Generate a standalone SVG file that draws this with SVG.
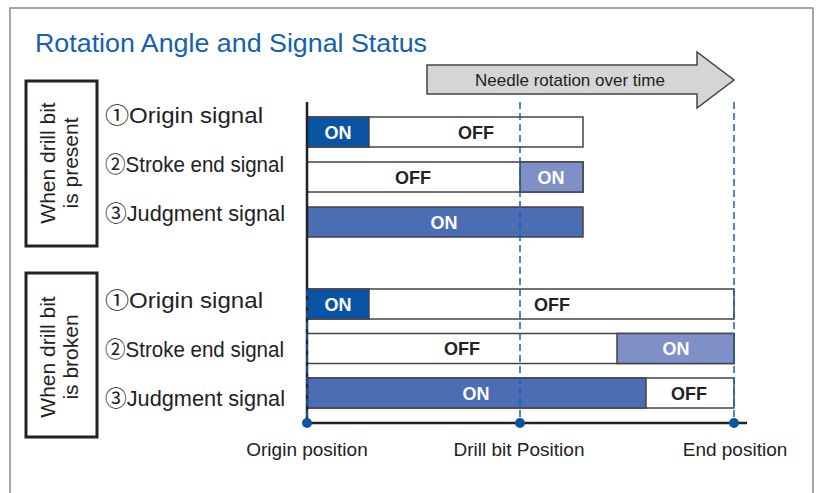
<svg xmlns="http://www.w3.org/2000/svg" width="816" height="493" viewBox="0 0 816 493">
<style>
.frame{fill:#fff;stroke:#8a8a8a;stroke-width:1.5}
.title{font-family:"Liberation Sans",Arial,sans-serif;font-size:26.5px;fill:#1560b0}
.cond{fill:#fff;stroke:#222;stroke-width:3}
.condt{font-family:"Liberation Sans",Arial,sans-serif;font-size:21px;fill:#222;text-anchor:middle}
.sig{font-family:"Liberation Sans","Noto Sans CJK JP",sans-serif;font-size:22px;fill:#222}
.bar{stroke:#444;stroke-width:1.5}
.off{fill:#fff}
.on1{fill:#0a54a5}
.on2{fill:#7f8fc8}
.on3{fill:#4a6db3}
.bt{font-family:"Liberation Sans",Arial,sans-serif;font-size:18px;font-weight:bold;text-anchor:middle}
.bw{fill:#fff}
.bk{fill:#222}
.dash{stroke:#1a5fb4;stroke-width:1.5;stroke-dasharray:7,4;fill:none}
.axis{stroke:#222;stroke-width:2.5;fill:none}
.dot{fill:#0a54a5}
.pos{font-family:"Liberation Sans",Arial,sans-serif;font-size:19px;fill:#222;text-anchor:middle}
.arrow{fill:#d5d5d7;stroke:#444;stroke-width:1.5}
.at{font-family:"Liberation Sans",Arial,sans-serif;font-size:17px;fill:#222;text-anchor:middle}
</style>
<rect class="frame" x="10" y="8" width="803" height="500"/>
<text class="title" x="35" y="52" textLength="392" lengthAdjust="spacingAndGlyphs">Rotation Angle and Signal Status</text>

<g id="arrow-time">
<polygon class="arrow" points="427,65 697,65 697,52 734,80 697,108 697,94 427,94"/>
<text class="at" x="570" y="86">Needle rotation over time</text>
</g>

<g id="cond-present">
<rect class="cond" x="26" y="81" width="71" height="165"/>
<text class="condt" transform="translate(55,163) rotate(-90)">When drill bit</text>
<text class="condt" transform="translate(77.5,163) rotate(-90)">is present</text>
</g>
<g id="cond-broken">
<rect class="cond" x="26" y="273" width="71" height="164"/>
<text class="condt" transform="translate(55,357) rotate(-90)">When drill bit</text>
<text class="condt" transform="translate(77.5,357) rotate(-90)">is broken</text>
</g>

<g id="labels-present">
<text class="sig" x="105" y="123" textLength="158" lengthAdjust="spacingAndGlyphs">①Origin signal</text>
<text class="sig" x="105" y="172" textLength="179" lengthAdjust="spacingAndGlyphs">②Stroke end signal</text>
<text class="sig" x="105" y="221" textLength="180" lengthAdjust="spacingAndGlyphs">③Judgment signal</text>
</g>
<g id="labels-broken">
<text class="sig" x="105" y="308" textLength="158" lengthAdjust="spacingAndGlyphs">①Origin signal</text>
<text class="sig" x="105" y="357" textLength="179" lengthAdjust="spacingAndGlyphs">②Stroke end signal</text>
<text class="sig" x="105" y="406" textLength="180" lengthAdjust="spacingAndGlyphs">③Judgment signal</text>
</g>

<g id="bars-present">
<rect class="bar off" x="307" y="117" width="276" height="30"/>
<rect class="bar on1" x="307" y="117" width="62" height="30"/>
<text class="bt bw" x="338" y="138.5">ON</text>
<text class="bt bk" x="476" y="138.5">OFF</text>
<rect class="bar off" x="307" y="162" width="276" height="30"/>
<rect class="bar on2" x="520" y="162" width="63" height="30"/>
<text class="bt bk" x="413" y="183.5">OFF</text>
<text class="bt bw" x="551" y="183.5">ON</text>
<rect class="bar on3" x="307" y="207" width="276" height="30"/>
<text class="bt bw" x="444" y="228.5">ON</text>
</g>

<g id="bars-broken">
<rect class="bar off" x="307" y="289" width="427" height="30"/>
<rect class="bar on1" x="307" y="289" width="62" height="30"/>
<text class="bt bw" x="338" y="310.5">ON</text>
<text class="bt bk" x="552" y="310.5">OFF</text>
<rect class="bar off" x="307" y="333.5" width="427" height="30"/>
<rect class="bar on2" x="617" y="333.5" width="117" height="30"/>
<text class="bt bk" x="462" y="355">OFF</text>
<text class="bt bw" x="676" y="355">ON</text>
<rect class="bar off" x="307" y="378" width="427" height="30"/>
<rect class="bar on3" x="307" y="378" width="339" height="30"/>
<text class="bt bw" x="476" y="399.5">ON</text>
<text class="bt bk" x="689" y="399.5">OFF</text>
</g>

<g id="connectors">
<line class="dash" x1="520" y1="102" x2="520" y2="423"/>
<line class="dash" x1="734" y1="102" x2="734" y2="423"/>
<line class="axis" x1="307" y1="102" x2="307" y2="423"/>
<line class="dash" x1="307" y1="289" x2="307" y2="423"/>
<line class="axis" x1="307" y1="423" x2="747" y2="423"/>
</g>

<g id="pos-origin">
<circle class="dot" cx="307" cy="423" r="5"/>
<text class="pos" x="307" y="456">Origin position</text>
</g>
<g id="pos-drill">
<circle class="dot" cx="520" cy="423" r="5"/>
<text class="pos" x="519" y="456">Drill bit Position</text>
</g>
<g id="pos-end">
<circle class="dot" cx="734" cy="423" r="5"/>
<text class="pos" x="735" y="456">End position</text>
</g>
</svg>
